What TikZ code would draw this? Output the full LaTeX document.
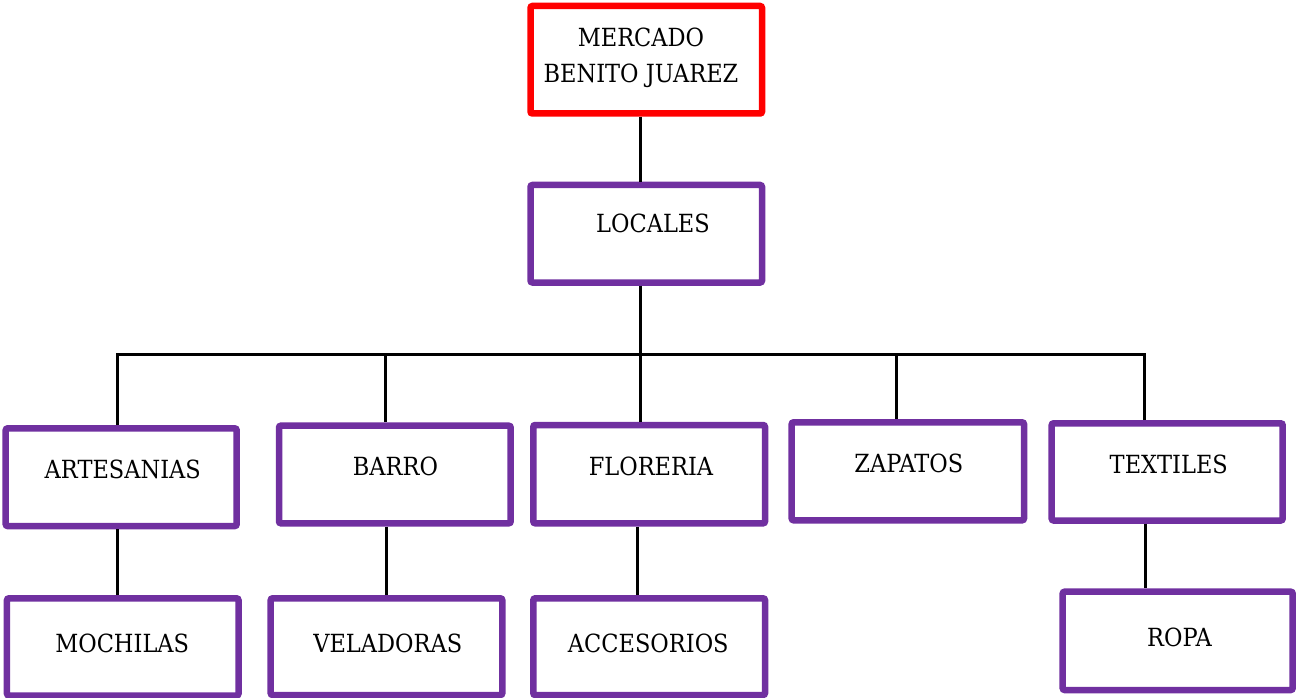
\documentclass[tikz,border=0pt]{standalone}
\usepackage{fontspec}
\setmainfont{DejaVu Serif}[FakeStretch=0.9]
\definecolor{boxpurple}{HTML}{7030A0}
\definecolor{boxred}{HTML}{FF0000}
\tikzset{
  orgbox/.style={draw=boxpurple, line width=6.5bp, rounded corners=2bp, inner sep=0pt, fill=white},
  topbox/.style={orgbox, draw=boxred},
  lbl/.style={anchor=base, inner sep=0pt, font=\fontsize{25bp}{30bp}\selectfont},
  conn/.style={draw=black, line width=3bp},
}
\begin{document}
\begin{tikzpicture}[x=1bp, y=-1bp]
\useasboundingbox (0,0) rectangle (1296,698);
% boxes
\node[topbox, minimum width=231.5bp, minimum height=107.5bp] (merc) at (646.25,59.75) {};
\node[orgbox, minimum width=231.5bp, minimum height=97.5bp] (loc) at (646.25,233.75) {};
\node[orgbox, minimum width=231bp, minimum height=97.7bp] (art) at (121.2,477.2) {};
\node[orgbox, minimum width=231.7bp, minimum height=97.6bp] (bar) at (394.85,474.5) {};
\node[orgbox, minimum width=231.7bp, minimum height=98.3bp] (flo) at (649.15,474.15) {};
\node[orgbox, minimum width=232.3bp, minimum height=98bp] (zap) at (907.85,471.3) {};
\node[orgbox, minimum width=231bp, minimum height=97.2bp] (tex) at (1167.2,471.9) {};
\node[orgbox, minimum width=231.5bp, minimum height=97.2bp] (moc) at (122.75,646.9) {};
\node[orgbox, minimum width=231.6bp, minimum height=96.7bp] (vel) at (386.5,646.65) {};
\node[orgbox, minimum width=231.7bp, minimum height=96.7bp] (acc) at (649.15,646.65) {};
\node[orgbox, minimum width=230bp, minimum height=98.3bp] (ropa) at (1177.7,640.85) {};
% labels
\node[lbl] (t1) at (641,46.7) {MERCADO};
\node[lbl] (t2) at (641,82.7) {BENITO JUAREZ};
\node[lbl] (t3) at (653,232.7) {LOCALES};
\node[lbl] (t4) at (122.8,478.3) {ARTESANIAS};
\node[lbl] (t5) at (395.5,475) {BARRO};
\node[lbl] (t6) at (651,475) {FLORERIA};
\node[lbl] (t7) at (908.8,472.3) {ZAPATOS};
\node[lbl] (t8) at (1168.8,473.3) {TEXTILES};
\node[lbl] (t9) at (122.2,652.3) {MOCHILAS};
\node[lbl] (t10) at (387.8,652.3) {VELADORAS};
\node[lbl] (t11) at (648.3,652.3) {ACCESORIOS};
\node[lbl] (t12) at (1179.5,646) {ROPA};
% connectors
\coordinate (b1) at (117.3,354);
\coordinate (b2) at (385.7,354);
\coordinate (b3) at (640,354);
\coordinate (b4) at (896.7,354);
\coordinate (b5) at (1144,354);
\coordinate (m1) at (640,0);
\coordinate (l1) at (117.3,0);
\coordinate (l2) at (386.7,0);
\coordinate (l3) at (637.3,0);
\coordinate (l4) at (1145,0);
\draw[conn] (m1 |- merc.south) -- (m1 |- loc.north);
\draw[conn] (m1 |- loc.south) -- (b3);
\draw[conn, line cap=rect] (b1) -- (b5);
\draw[conn] (b1) -- (b1 |- art.north);
\draw[conn] (b2) -- (b2 |- bar.north);
\draw[conn] (b3) -- (b3 |- flo.north);
\draw[conn] (b4) -- (b4 |- zap.north);
\draw[conn] (b5) -- (b5 |- tex.north);
\draw[conn] (l1 |- art.south) -- (l1 |- moc.north);
\draw[conn] (l2 |- bar.south) -- (l2 |- vel.north);
\draw[conn] (l3 |- flo.south) -- (l3 |- acc.north);
\draw[conn] (l4 |- tex.south) -- (l4 |- ropa.north);
\end{tikzpicture}
\end{document}
